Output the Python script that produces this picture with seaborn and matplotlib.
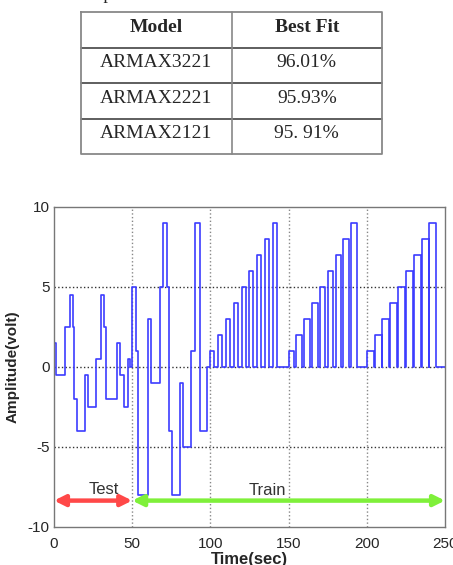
import numpy as np
import pandas as pd
import matplotlib
matplotlib.use("Agg")
import matplotlib.pyplot as plt
import seaborn as sns

# Tabla de comparacion
table_header = ["Model", "Best Fit"]
table_models = ["ARMAX3221", "ARMAX2221", "ARMAX2121"]
table_fits = ["96.01%", "95.93%", "95. 91%"]

# Tramo inicial (0-100 s): instantes de cambio y niveles
test_t = [0, 1.3, 6.8, 10, 12.4, 13, 14.5, 20, 22, 27, 30, 32, 33.5, 40, 42, 45,
          47, 48.5, 50, 52.4, 53.4, 60, 62.2, 67.5, 70, 72.5, 73.3, 75.4, 80.8,
          82.5, 87.6, 90.3, 93.3, 98]
test_v = [1.5, -0.5, 2.5, 4.5, 2.5, -2, -4, -0.5, -2.5, 0.5, 4.5, 2.5, -2, 1.5, -0.5, -2.5,
          0.5, 0, 5, 1, -8, 3, -1, 5, 9, 5, -4, -8, -1,
          -5, 1, 9, -4, 0]

# Pulsos de entrenamiento (100-250 s)
pulse_on = [100, 105, 110, 115, 120, 125, 130, 135, 140,
            150, 155, 160, 165, 170, 175, 180, 185, 190,
            200, 205, 210, 215, 220, 225, 230, 235, 240]
pulse_off = [102.5, 107.5, 112.5, 117.5, 122.5, 127.5, 132.5, 137.5, 142.5,
             153.5, 158.5, 163.5, 168.5, 173.5, 178.5, 183.5, 188.5, 193.5,
             204.5, 209.5, 214.5, 219.5, 224.5, 229.5, 234.5, 239.5, 244.5]
pulse_level = [1, 2, 3, 4, 5, 6, 7, 8, 9,
               1, 2, 3, 4, 5, 6, 7, 8, 9,
               1, 2, 3, 4, 5, 6, 7, 8, 9]
t_end = 250

x_ticks = [0, 50, 100, 150, 200, 250]
y_ticks = [-10, -5, 0, 5, 10]

# Armar la senal escalonada
times = list(test_t)
vals = list(test_v)
for on, off, lv in zip(pulse_on, pulse_off, pulse_level):
    times += [on, off]
    vals += [lv, 0]
times.append(t_end)
vals.append(0)
df = pd.DataFrame({"t": times, "v": vals})

sns.set_style("white")
plt.rcParams['font.family'] = ['Liberation Sans', 'DejaVu Sans']
plt.rcParams['axes.unicode_minus'] = False

W, H = 453, 565
fig = plt.figure(figsize=(W / 100, H / 100), dpi=100)

# Titulo de la tabla (cortado en el borde superior, como en el original)
cap = fig.text(8 / W, 1 - 3 / H, "Table 1", family='Liberation Serif',
               fontsize=13, fontweight='bold', va='bottom', ha='left')
ann_ax = fig.add_axes([0, 0, 1, 1], facecolor='none')
ann_ax.axis('off')
ann_ax.annotate(" Comparison between models.", xy=(1, 0), xycoords=cap,
                va='bottom', ha='left', family='Liberation Serif', fontsize=13)

# Tabla
tx0, tx1, ty0, ty1 = 81, 382, 12, 154
tax = fig.add_axes([tx0 / W, 1 - ty1 / H, (tx1 - tx0) / W, (ty1 - ty0) / H])
tax.set_xlim(0, 2)
tax.set_ylim(4, 0)
tax.axis('off')
for r in range(1, 4):
    tax.plot([0, 2], [r, r], color='#333333', lw=1.1, clip_on=False)
tax.plot([0, 2, 2, 0, 0], [0, 0, 4, 4, 0], color='#888888', lw=1.3, clip_on=False)
tax.plot([1, 1], [0, 4], color='#888888', lw=1.2, clip_on=False)
for c, h in enumerate(table_header):
    tax.text(c + 0.5, 0.55, h, ha='center', va='baseline', family='Liberation Serif',
             fontsize=14, fontweight='bold')
for r, (m, f) in enumerate(zip(table_models, table_fits), start=1):
    tax.text(0.5, r + 0.55, m, ha='center', va='baseline', family='Liberation Serif', fontsize=14)
    tax.text(1.5, r + 0.55, f, ha='center', va='baseline', family='Liberation Serif', fontsize=14)

# Grafico de la senal
ax = fig.add_axes([54 / W, 38 / H, 391 / W, 320 / H])
sns.lineplot(data=df, x="t", y="v", ax=ax, estimator=None, sort=False,
             drawstyle='steps-post', color='#3c3cff', lw=1.2)
ax.set_xlim(0, 250)
ax.set_ylim(-10, 10)
ax.set_xticks(x_ticks)
ax.set_yticks(y_ticks)
ax.set_xticklabels([str(v) for v in x_ticks], fontsize=11)
ax.set_yticklabels([str(v) for v in y_ticks], fontsize=11)
ax.tick_params(axis='both', direction='in', length=3, color='#777777', pad=3)
ax.tick_params(axis='x', pad=7)
for s in ax.spines.values():
    s.set_color('#777777')
    s.set_linewidth(1.0)
for xv in x_ticks[1:-1]:
    ax.axvline(xv, color='#888888', ls=':', lw=1.0, zorder=0)
for yv in y_ticks[1:-1]:
    ax.axhline(yv, color='#333333', ls=':', lw=1.0, zorder=0)

ax.set_xlabel("Time(sec)", fontsize=12, fontweight='bold', labelpad=1)
ax.set_ylabel("Amplitude(volt)", fontsize=11, fontweight='bold', labelpad=6)

# Flechas Test / Train
arrow_y = -8.35
ax.annotate('', xy=(0, arrow_y), xytext=(50, arrow_y),
            arrowprops=dict(arrowstyle='<|-|>', color='#ff4848', lw=3.2,
                            mutation_scale=16, shrinkA=0, shrinkB=0))
ax.annotate('', xy=(250, arrow_y), xytext=(50, arrow_y),
            arrowprops=dict(arrowstyle='<|-|>', color='#7ff03a', lw=3.2,
                            mutation_scale=16, shrinkA=0, shrinkB=0))
ax.text(32, -7.95, "Test", fontsize=12, color='#333333', ha='center', va='baseline')
ax.text(136.5, -8.0, "Train", fontsize=12, color='#333333', ha='center', va='baseline')

fig.savefig("out.png", dpi=100)
